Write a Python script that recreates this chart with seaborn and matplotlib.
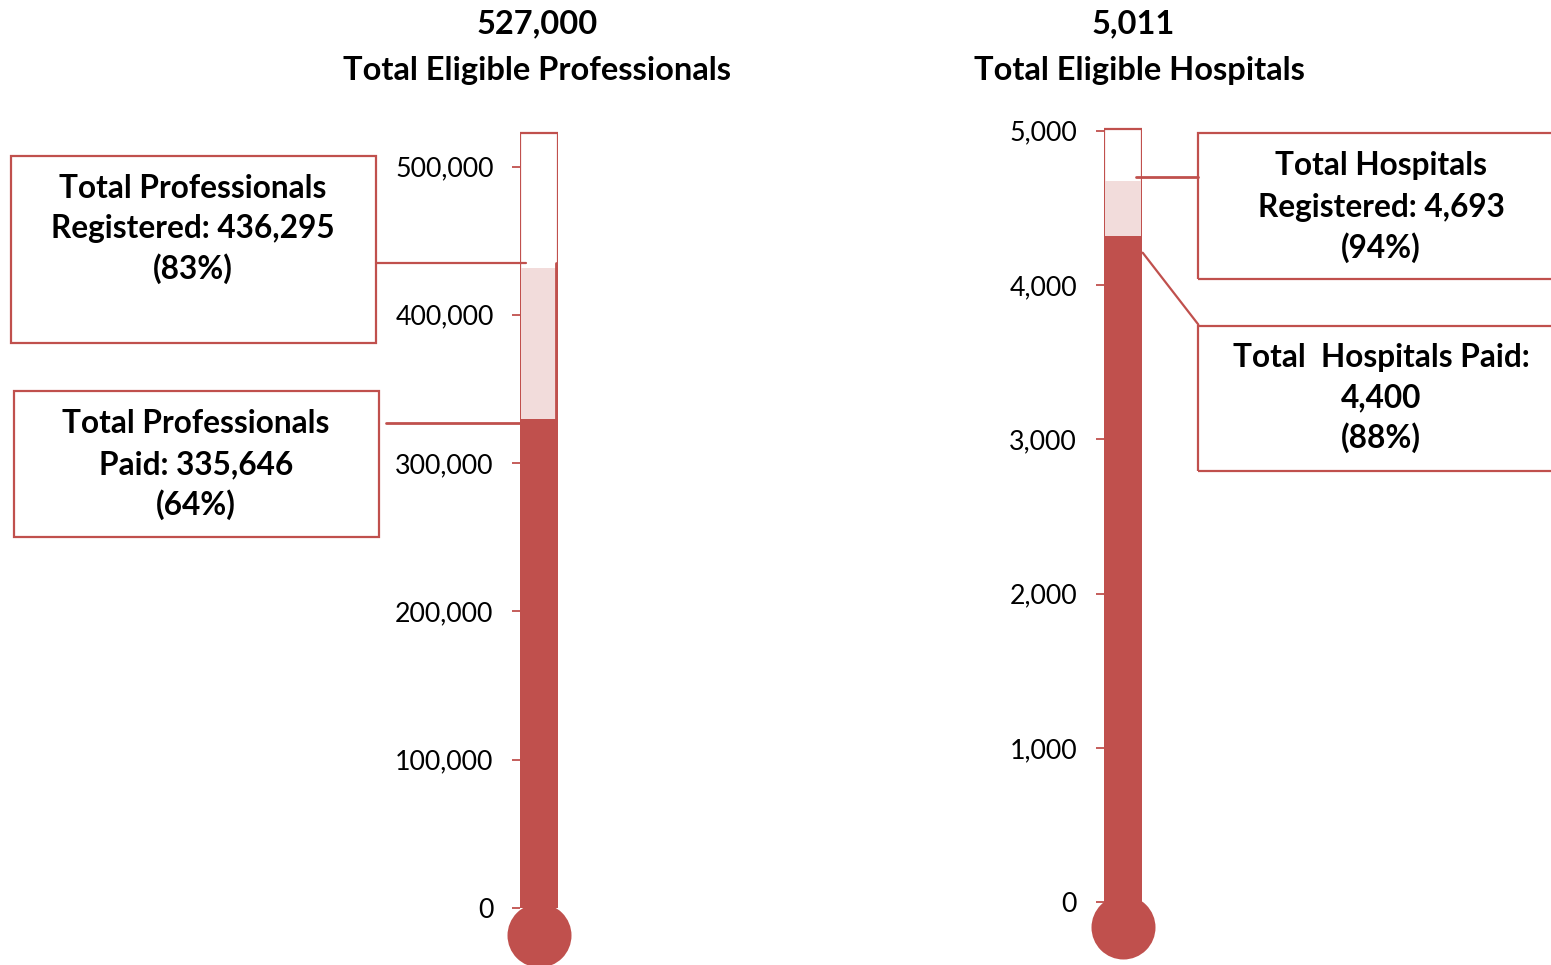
import matplotlib
matplotlib.use("Agg")
import matplotlib.pyplot as plt
import seaborn as sns
from matplotlib.patches import Rectangle
from matplotlib.lines import Line2D
from matplotlib.ticker import FuncFormatter

# ---------------- data ----------------
categories = ["Professionals", "Hospitals"]
eligible = [527000, 5011]
registered = [436295, 4693]
paid = [335646, 4400]
pct_registered = [83, 94]
pct_paid = [64, 88]
# bar heights as drawn in the reference
bar_eligible = [522600, 5011]
bar_registered = [431800, 4675]
bar_paid = [329700, 4318]
yticks_prof = [0, 100000, 200000, 300000, 400000, 500000]
yticks_hosp = [0, 1000, 2000, 3000, 4000, 5000]

RED = "#C0504D"
PINK = "#F2DCDB"

sns.set_theme(style="white")
plt.rcParams["font.family"] = ["Lato", "DejaVu Sans"]

W, H = 1551, 965
fig = plt.figure(figsize=(W / 100, H / 100), dpi=100)
fig.patch.set_facecolor("white")


def fx(x):
    return x / W


def fy(y):
    return 1 - y / H


def make_axes(x_left, x_right, y0_px, px_per_unit, y_top_px):
    ymax = (y0_px - y_top_px) / px_per_unit
    ax = fig.add_axes([fx(x_left), fy(y0_px), (x_right - x_left) / W, (y0_px - y_top_px) / H])
    ax.set_ylim(0, ymax)
    return ax


axes_specs = [
    dict(x_left=520, x_right=558, y0_px=908, px_per_unit=148.3 / 100000, y_top_px=110, ticks=yticks_prof, pad=13, bulb_y=935),
    dict(x_left=1104, x_right=1142, y0_px=902.3, px_per_unit=154.3 / 1000, y_top_px=110, ticks=yticks_hosp, pad=13.5, bulb_y=927),
]

for i, spec in enumerate(axes_specs):
    ax = make_axes(spec["x_left"], spec["x_right"], spec["y0_px"], spec["px_per_unit"], spec["y_top_px"])
    cat = [categories[i]]
    sns.barplot(x=cat, y=[bar_eligible[i]], color="white", edgecolor=RED, linewidth=1.6,
                width=1, saturation=1, ax=ax, zorder=1)
    sns.barplot(x=cat, y=[bar_registered[i]], color=PINK, edgecolor=PINK, linewidth=0,
                width=0.94, saturation=1, ax=ax, zorder=2)
    sns.barplot(x=cat, y=[bar_paid[i]], color=RED, edgecolor=RED, linewidth=0,
                width=1, saturation=1, ax=ax, zorder=3)
    ax.set_xlim(-0.5, 0.5)
    ax.set_ylim(0, (spec["y0_px"] - spec["y_top_px"]) / spec["px_per_unit"])
    # bulb
    bulb_val = -(spec["bulb_y"] - spec["y0_px"]) / spec["px_per_unit"]
    ax.scatter([0], [bulb_val], s=(64 * 0.72) ** 2, color=RED, linewidths=0, clip_on=False, zorder=4)
    ax.set_xlabel("")
    ax.set_ylabel("")
    ax.set_xticks([])
    ax.set_yticks(spec["ticks"])
    ax.yaxis.set_major_formatter(FuncFormatter(lambda v, p: f"{int(v):,}"))
    ax.tick_params(axis="y", direction="out", length=6, width=1.3, color=RED, pad=spec["pad"],
                   labelsize=19.3, labelcolor="black", left=True)
    for s in ax.spines.values():
        s.set_visible(False)
    ax.set_facecolor("none")
    ax.grid(False)

# ---------------- titles ----------------
title_kw = dict(ha="center", va="baseline", fontsize=23.5, fontweight="bold", color="black")
fig.text(fx(537), fy(33.3), f"{eligible[0]:,}", **title_kw)
fig.text(fx(537), fy(80), "Total Eligible Professionals", **title_kw)
fig.text(fx(1133), fy(33.3), f"{eligible[1]:,}", **title_kw)
fig.text(fx(1139), fy(80), "Total Eligible Hospitals", **title_kw)

# ---------------- boxes ----------------
def box(x0, y0, x1, y1):
    fig.add_artist(Rectangle((fx(x0), fy(y1)), (x1 - x0) / W, (y1 - y0) / H, transform=fig.transFigure,
                             facecolor="none", edgecolor=RED, linewidth=1.6))


def line(x0, y0, x1, y1, lw=1.6):
    fig.add_artist(Line2D([fx(x0), fx(x1)], [fy(y0), fy(y1)], transform=fig.transFigure, color=RED,
                          linewidth=lw))


box_kw = dict(ha="center", va="baseline", fontsize=22.8, fontweight="bold", color="black")


def box_text(xc, baselines, lines):
    for b, t in zip(baselines, lines):
        fig.text(fx(xc), fy(b), t, **box_kw)


box(11, 155.5, 376, 342.7)
box_text(193, [197.7, 238.3, 279.3],
         ["Total Professionals", f"Registered: {registered[0]:,}", f"({pct_registered[0]}%)"])
box(14, 390.7, 379.3, 536.7)
box_text(196, [432.7, 474.3, 515],
         ["Total Professionals", f"Paid: {paid[0]:,}", f"({pct_paid[0]}%)"])
box(1198.3, 133.3, 1600, 279)
box_text(1381, [175, 216.7, 257.7],
         ["Total Hospitals", f"Registered: {registered[1]:,}", f"({pct_registered[1]}%)"])
box(1198.3, 325.7, 1600, 470.7)
box_text(1381, [367.3, 407.7, 448.3],
         ["Total  Hospitals Paid:", f"{paid[1]:,}", f"({pct_paid[1]}%)"])

# connectors
line(376, 263.3, 526, 263.3)
line(555.5, 263.3, 555.5, 419, lw=2)
line(386, 423.3, 520, 423.3, lw=2)
line(1136, 177.3, 1198.3, 177.3, lw=2)
line(1142.7, 252.7, 1198.3, 324.5)

fig.savefig("out.png", dpi=100, facecolor="white")
